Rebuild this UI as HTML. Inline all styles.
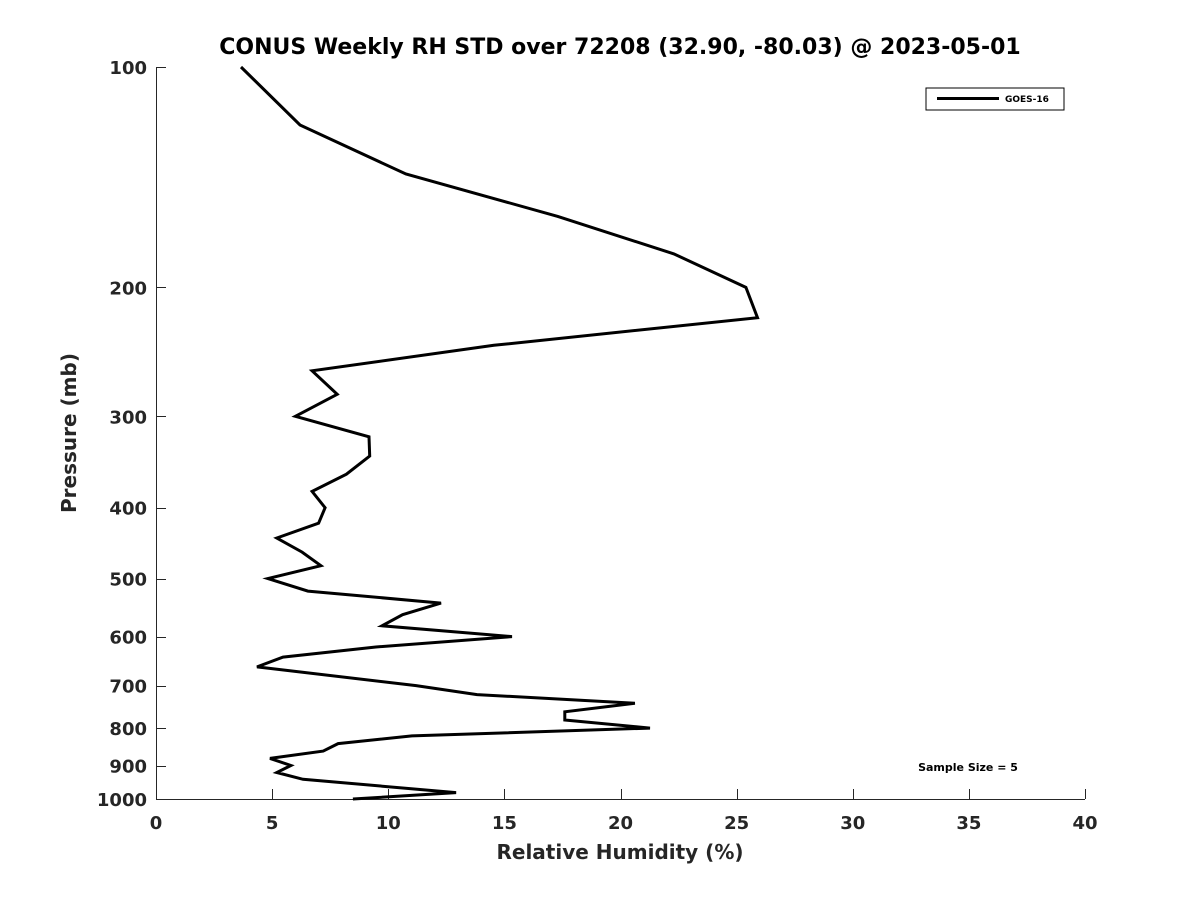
<!DOCTYPE html>
<html><head><meta charset="utf-8"><style>
html,body{margin:0;padding:0;background:#fff;}
svg text{font-family:"DejaVu Sans","Liberation Sans",sans-serif;font-weight:bold;}
</style></head><body>
<svg id="chart" width="1200" height="900" viewBox="0 0 1200 900" xmlns="http://www.w3.org/2000/svg">
<rect width="1200" height="900" fill="#fff"/>
<text x="620" y="54" text-anchor="middle" font-size="22" fill="#000">CONUS Weekly RH STD over 72208 (32.90, -80.03) @ 2023-05-01</text>
<g id="axes"></g>
<g id="series"></g>
<rect x="926" y="88" width="138" height="22" fill="#fff" stroke="#000" stroke-width="1"/>
<line x1="937" y1="98.5" x2="999" y2="98.5" stroke="#000" stroke-width="3"/>
<text x="1005" y="102" font-size="9" fill="#000">GOES-16</text>
<text x="968" y="771" text-anchor="middle" font-size="11" fill="#000">Sample Size = 5</text>
<text x="620" y="859" text-anchor="middle" font-size="20" fill="#262626">Relative Humidity (%)</text>
<text transform="translate(76,433) rotate(-90)" text-anchor="middle" font-size="20" fill="#262626">Pressure (mb)</text>
</svg>
<script>
const rhValues = [3.66,6.2,10.76,17.3,22.3,25.4,25.9,14.55,6.72,7.8,6.0,9.17,9.2,8.2,6.72,7.28,7.0,5.2,6.29,7.1,4.82,6.54,12.27,10.62,9.73,15.33,9.47,5.47,4.35,11.2,13.82,20.62,17.6,17.6,21.27,11.02,7.84,7.2,4.91,5.81,5.2,6.33,12.92,8.48];
const pressureLevels = [100,120,140,160,180,200,220,240,260,280,300,320,340,360,380,400,420,440,460,480,500,520,540,560,580,600,620,640,660,700,720,740,760,780,800,820,840,860,880,900,920,940,980,1000];
const xTicks = [0,5,10,15,20,25,30,35,40];
const yTicks = [100,200,300,400,500,600,700,800,900,1000];
const NS="http://www.w3.org/2000/svg";
const X0=156,X1=1085,Y0=67,Y1=799;
function xs(v){return X0+(v-0)/(40-0)*(X1-X0);}
function ys(p){return Y0+Math.log10(p/100)/Math.log10(1000/100)*(Y1-Y0);}
const axes=document.getElementById('axes');
function mk(tag,attrs,parent){const e=document.createElementNS(NS,tag);for(const k in attrs)e.setAttribute(k,attrs[k]);parent.appendChild(e);return e;}
const xa=mk('line',{x1:X0,y1:Y1+0.5,x2:X1,y2:Y1+0.5,stroke:'#262626','stroke-width':1},axes);


const ya=mk('line',{x1:X0+0.5,y1:Y0,x2:X0+0.5,y2:Y1,stroke:'#262626','stroke-width':1},axes);


xTicks.forEach(t=>{
  const x=Math.round(xs(t))+0.5;
  const l=mk('line',{x1:x,y1:Y1,x2:x,y2:Y1-10,stroke:'#262626','stroke-width':1},axes);
  
  
  const tx=mk('text',{x:xs(t),y:Y1+30,'text-anchor':'middle','font-size':18,fill:'#262626'},axes);
  tx.textContent=t;
  
  
});
yTicks.forEach(t=>{
  const y=Math.round(ys(t))+0.5;
  const l=mk('line',{x1:X0,y1:y,x2:X0+10,y2:y,stroke:'#262626','stroke-width':1},axes);
  
  
  const tx=mk('text',{x:X0-9,y:ys(t)+7,'text-anchor':'end','font-size':18,fill:'#262626'},axes);
  tx.textContent=t;
  
  
});
const pts=rhValues.map((v,i)=>xs(v).toFixed(1)+','+ys(pressureLevels[i]).toFixed(1)).join(' ');
const pl=mk('polyline',{points:pts,fill:'none',stroke:'#000','stroke-width':3,'stroke-linejoin':'miter'},document.getElementById('series'));


</script>
</body></html>
